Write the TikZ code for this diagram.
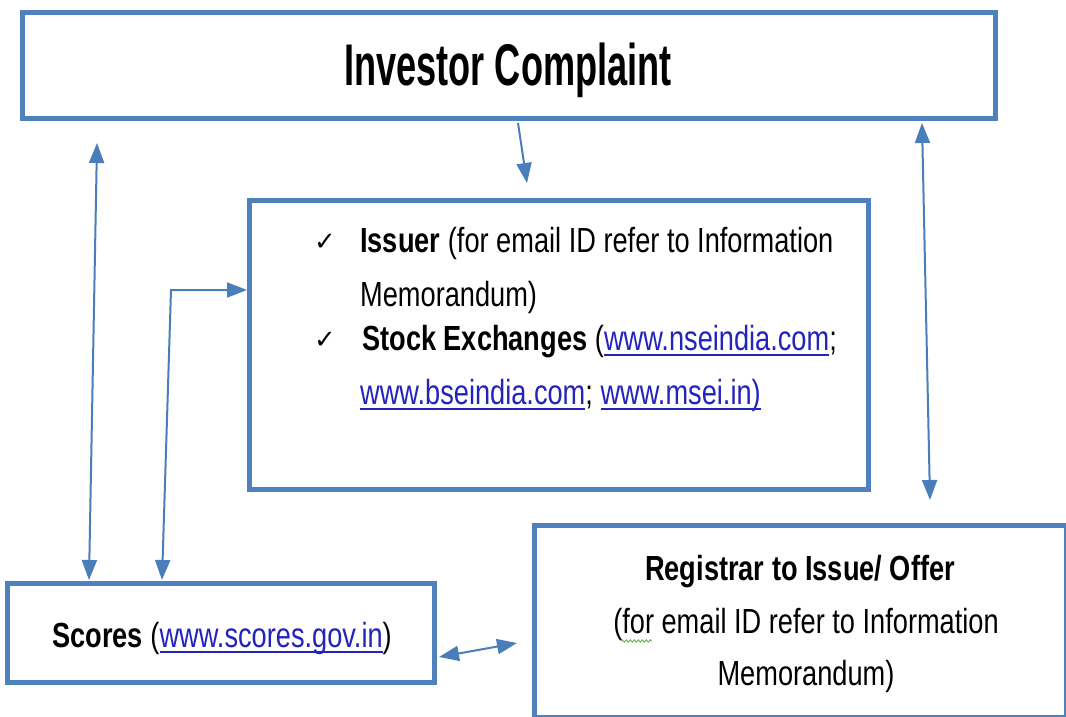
\documentclass[tikz,border=0pt]{standalone}
\usepackage{fontspec}
\usetikzlibrary{arrows.meta,fit,decorations.pathmorphing}
\setmainfont{Liberation Sans}
\newfontfamily\ttlfont[FakeStretch=0.615]{Liberation Sans}
\newfontfamily\bdyfont[FakeStretch=0.78]{Liberation Sans}
\newfontfamily\symfont{DejaVu Sans}
\definecolor{boxblue}{RGB}{79,129,189}
\definecolor{arrblue}{RGB}{74,126,187}
\definecolor{linkblue}{RGB}{35,35,190}
\definecolor{wavygreen}{RGB}{90,170,70}
\newcommand{\lnk}[1]{\textcolor{linkblue}{\setbox0\hbox{#1}\rlap{\rule[-5.5bp]{\wd0}{1.4bp}}\box0}}
\tikzset{
  box/.style={draw=boxblue, line width=5bp, inner sep=0pt},
  arrtip/.tip={Triangle[length=20bp,width=15bp]},
  arr/.style={draw=arrblue, line width=2bp},
  txt/.style={inner sep=0pt, font=\bdyfont\fontsize{35}{40}\selectfont},
  chk/.style={inner sep=0pt, anchor=base west, font=\symfont\fontsize{26}{28}\selectfont},
}
\begin{document}
\begin{tikzpicture}[x=1bp,y=-1bp]
\useasboundingbox (0,0) rectangle (1066,717);
\fill[white] (0,0) rectangle (1066,717);

% boxes
\node[box, fit={(22,12.5)(995,119)}] (complaint) {};
\node[box, fit={(249,200)(868,489)}] (issuer) {};
\node[box, fit={(7,583)(434,682)}] (scores) {};
\node[box, fit={(534,525)(1066,717)}] (registrar) {};

% texts
\node[anchor=base, inner sep=0pt, font=\ttlfont\bfseries\fontsize{59}{60}\selectfont] (title) at (508,86) {Investor Complaint};

\node[chk] (chk1) at (314,250) {✓};
\node[txt, anchor=base west] (iss1) at (360,252) {\textbf{Issuer} (for email ID refer to Information};
\node[txt, anchor=base west] (iss2) at (360,306) {Memorandum)};
\node[chk] (chk2) at (314,348) {✓};
\node[txt, anchor=base west] (iss3) at (362,350) {\textbf{Stock Exchanges} (\lnk{www.nseindia.com};};
\node[txt, anchor=base west] (iss4) at (360,404) {\lnk{www.bseindia.com}; \lnk{www.msei.in)}};

\node[txt, anchor=base west] (sc) at (52,647) {\textbf{Scores} (\lnk{www.scores.gov.in})};

\node[txt, anchor=base] (reg1) at (800,580) {\textbf{Registrar to Issue/ Offer}};
\node[txt, anchor=base] (reg2) at (806,633) {(for email ID refer to Information};
\node[txt, anchor=base] (reg3) at (806,685) {Memorandum)};
\draw[wavygreen, line width=0.8bp, decorate, decoration={snake, amplitude=1.2bp, segment length=4bp}]
  (621,641) -- (652,641);

% connector end points
\coordinate (a1s) at (518,123);
\coordinate (a1e) at (527,183);
\coordinate (a2s) at (97,143);
\coordinate (a2e) at (89,580);
\coordinate (a3s) at (162,580);
\coordinate (a3m) at (171,290);
\coordinate (a3e) at (247,290);
\coordinate (a4s) at (922,123);
\coordinate (a4e) at (930,500);
\coordinate (a5s) at (439,657);
\coordinate (a5e) at (517,643);

% connectors
\draw[arr, -arrtip] (a1s) -- (a1e);
\draw[arr, arrtip-arrtip] (a2s) -- (a2e);
\draw[arr, arrtip-arrtip] (a3s) -- (a3m) -- (a3e);
\draw[arr, arrtip-arrtip] (a4s) -- (a4e);
\draw[arr, arrtip-arrtip] (a5s) -- (a5e);
\end{tikzpicture}
\end{document}
